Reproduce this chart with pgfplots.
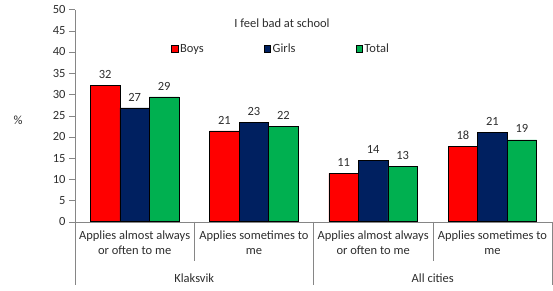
\documentclass[border=0pt]{standalone}
\usepackage{pgfplots}
\pgfplotsset{compat=1.18}
\usepackage{fontspec}
\setmainfont{Carlito}
\definecolor{cboys}{RGB}{255,0,0}
\definecolor{cgirls}{RGB}{0,32,96}
\definecolor{ctotal}{RGB}{0,176,80}
\definecolor{axgray}{RGB}{134,134,134}
\definecolor{txt}{RGB}{45,45,45}
\begin{document}
\begin{tikzpicture}[font=\fontsize{12.5bp}{15bp}\selectfont, text=txt]
\path[use as bounding box] (-75bp,-69.3bp) rectangle (478bp,221.7bp);
\begin{axis}[
  scale only axis, width=477bp, height=212.2bp,
  xmin=-0.5, xmax=3.5, ymin=0, ymax=50,
  ytick={0,5,...,50},
  xtick={0,1,2,3},
  xticklabels={Applies almost always\\or often to me, Applies sometimes to\\me, Applies almost always\\or often to me, Applies sometimes to\\me},
  x tick label style={align=center},
  xtick style={draw=none},
  axis x line*=bottom, axis y line*=left,
  axis line style={axgray, -},
  ytick style={axgray},
  tick align=outside, major tick length=6bp,
  /pgf/number format/assume math mode=true,
  ybar=0pt, bar width=29.5bp,
  clip=false,
  every axis plot/.append style={draw=black, line width=0.5pt},
  nodes near coords,
  nodes near coords style={text=txt, yshift=3.3bp, /pgf/number format/fixed, /pgf/number format/precision=0},
  legend style={at={(rel axis cs:0.2013,0.814)}, anchor=west, draw=none, fill=none, inner sep=0pt,
    /tikz/every even column/.append style={column sep=58bp}},
  legend columns=3,
  legend image code/.code={\draw[#1,draw=black,line width=0.4pt] (0bp,-3.3bp) rectangle (6.5bp,3.3bp);},
]
\addplot[fill=cboys] coordinates {(0,32.1) (1,21.4) (2,11.4) (3,17.7)};
\addplot[fill=cgirls] coordinates {(0,26.8) (1,23.4) (2,14.4) (3,21.0)};
\addplot[fill=ctotal] coordinates {(0,29.4) (1,22.4) (2,13.0) (3,19.3)};
\legend{Boys, Girls, Total}
\draw[axgray] (axis cs:-0.5,0) -- ++(0bp,-63bp);
\draw[axgray] (axis cs:0.5,0) -- ++(0bp,-39bp);
\draw[axgray] (axis cs:1.5,0) -- ++(0bp,-63bp);
\draw[axgray] (axis cs:2.5,0) -- ++(0bp,-39bp);
\draw[axgray] (axis cs:3.5,0) -- ++(0bp,-63bp);
\node at ([yshift=-56.3bp]axis cs:0.5,0) {Klaksvik};
\node at ([yshift=-56.3bp]axis cs:2.5,0) {All cities};
\node at ([yshift=198.7bp]axis cs:1.236,0) {I feel bad at school};
\node at ([xshift=-57bp]rel axis cs:0,0.479) {\%};
\end{axis}
\end{tikzpicture}
\end{document}
